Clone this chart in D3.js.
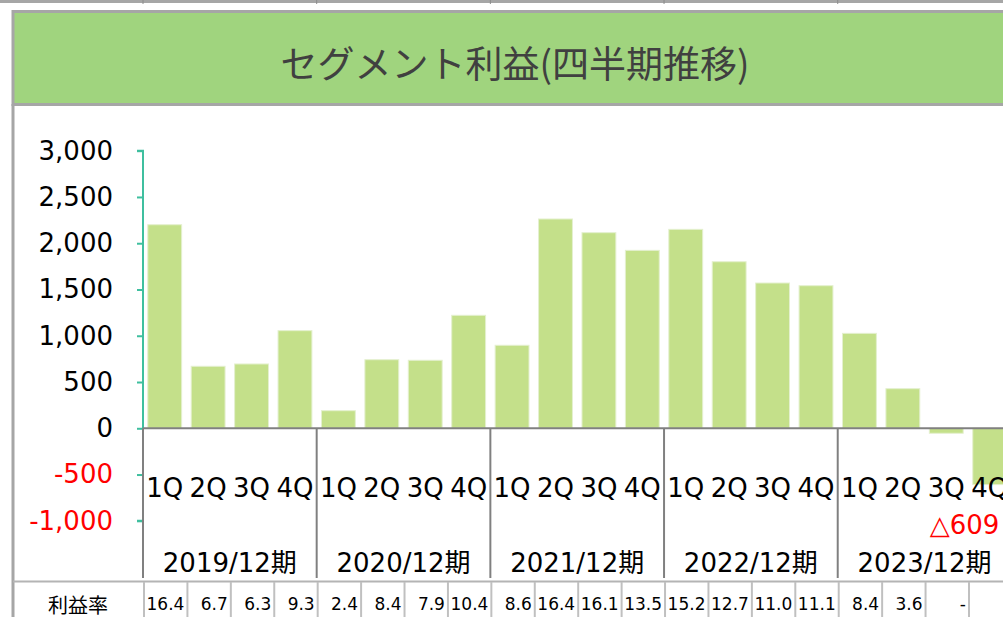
<!DOCTYPE html>
<html>
<head>
	<meta charset="utf-8">
	<script src="https://d3js.org/d3.v7.min.js"></script>
	<title></title>
	<style type="text/css">
		body { margin: 0; background: #fff; }
		svg { display: block; font-family: "DejaVu Sans", "Noto Sans CJK JP", sans-serif; }
	</style>
</head>
<body>
	<div id="chart"></div>

	<script type="text/javascript">

		var title = "セグメント利益(四半期推移)";
		var years = ["2019/12期", "2020/12期", "2021/12期", "2022/12期", "2023/12期"];
		var quarters = ["1Q", "2Q", "3Q", "4Q"];
		var profit = [2200, 670, 695, 1055,
		              190, 741, 735, 1221,
		              897, 2262, 2114, 1923,
		              2150, 1800, 1570, 1541,
		              1026, 428, -54, -609];
		var margin = ["16.4", "6.7", "6.3", "9.3",
		              "2.4", "8.4", "7.9", "10.4",
		              "8.6", "16.4", "16.1", "13.5",
		              "15.2", "12.7", "11.0", "11.1",
		              "8.4", "3.6", "-", ""];
		var yTicks = [-1000, -500, 0, 500, 1000, 1500, 2000, 2500, 3000];

		var width = 1003, height = 617;

		var svg = d3.select("#chart")
		  .append("svg")
		  .attr("width", width)
		  .attr("height", height);

		// top strip from the sheet above
		svg.append("rect").attr("x", 0).attr("y", 0).attr("width", width).attr("height", 3).attr("fill", "#a6a6a6");

		var x = d3.scaleBand()
		  .domain(d3.range(profit.length))
		  .range([143, 143 + 43.42 * profit.length])
		  .paddingInner(0.22)
		  .paddingOuter(0.11);
		var step = x.step();

		var y = d3.scaleLinear().domain([-1000, 3000]).range([520.8, 150.7]);

		years.forEach(function(yr, i) {
			svg.append("line")
			  .attr("x1", 143 + i * 4 * step).attr("x2", 143 + i * 4 * step)
			  .attr("y1", 0).attr("y2", 4)
			  .attr("stroke", "#8c8c8c").attr("stroke-width", 1);
		});

		// title box
		svg.append("rect")
		  .attr("x", 13).attr("y", 11.5)
		  .attr("width", width).attr("height", 93)
		  .attr("fill", "#a0d47e")
		  .attr("stroke", "#a6a6a6").attr("stroke-width", 3);

		svg.append("text")
		  .attr("x", 515).attr("y", 62)
		  .attr("text-anchor", "middle")
		  .attr("dominant-baseline", "central")
		  .attr("font-family", "'Noto Sans CJK JP', sans-serif")
		  .attr("font-size", 37)
		  .attr("fill", "#404040")
		  .text(title);

		svg.append("line")
		  .attr("x1", 13).attr("x2", 13).attr("y1", 104).attr("y2", height)
		  .attr("stroke", "#a6a6a6").attr("stroke-width", 3);

		// bars
		svg.append("g").selectAll("rect")
		  .data(profit)
		  .join("rect")
		  .attr("x", function(d, i) { return x(i); })
		  .attr("width", x.bandwidth())
		  .attr("y", function(d) { return y(Math.max(0, d)); })
		  .attr("height", function(d) { return Math.abs(y(d) - y(0)); })
		  .attr("fill", "#c4e08a")
		  .attr("stroke", "#e4f0cf")
		  .attr("stroke-width", 1);

		// y axis
		var fmt = d3.format(",");
		var yaxis = svg.append("g")
		  .attr("transform", "translate(143,0)")
		  .call(d3.axisLeft(y).tickValues(yTicks).tickSize(6)
		    .tickFormat(function(d) { return fmt(d).replace("\u2212", "-"); }));
		yaxis.selectAll("path, line").attr("stroke", "#3fbf9f").attr("stroke-width", 2);
		yaxis.select(".domain").attr("d", "M-6," + y(3000) + "H0V" + y(-1000) + "H-6").attr("fill", "none");
		yaxis.selectAll("text")
		  .attr("x", -30)
		  .attr("font-size", 26)
		  .attr("font-family", "'DejaVu Sans', sans-serif")
		  .attr("fill", function(d) { return d < 0 ? "#ff0000" : "#000"; });

		// category axis
		svg.append("line")
		  .attr("x1", 143).attr("x2", width).attr("y1", y(0)).attr("y2", y(0))
		  .attr("stroke", "#808080").attr("stroke-width", 2);

		years.forEach(function(yr, i) {
			var gx = 143 + i * 4 * step;
			svg.append("line")
			  .attr("x1", gx).attr("x2", gx).attr("y1", y(0)).attr("y2", 578)
			  .attr("stroke", "#808080").attr("stroke-width", 2);
			svg.append("text")
			  .attr("x", gx + 2 * step).attr("y", 563)
			  .attr("text-anchor", "middle").attr("dominant-baseline", "central")
			  .attr("font-size", 26).attr("fill", "#000")
			  .text(yr);
		});

		svg.append("g").selectAll("text")
		  .data(profit)
		  .join("text")
		  .attr("x", function(d, i) { return x(i) + x.bandwidth() / 2; })
		  .attr("y", 488)
		  .attr("text-anchor", "middle").attr("dominant-baseline", "central")
		  .attr("font-size", 26).attr("fill", "#000")
		  .text(function(d, i) { return quarters[i % 4]; });

		// negative value label
		var last = profit.length - 1;
		svg.append("text")
		  .attr("x", x(last) - 43).attr("y", 525)
		  .attr("dominant-baseline", "central")
		  .attr("font-size", 26).attr("fill", "#ff0000")
		  .text("△" + Math.abs(profit[last]));

		// margin table
		svg.append("line")
		  .attr("x1", 13).attr("x2", width).attr("y1", 581.5).attr("y2", 581.5)
		  .attr("stroke", "#b4b4b4").attr("stroke-width", 2);

		svg.append("text")
		  .attr("x", 78).attr("y", 604)
		  .attr("text-anchor", "middle").attr("dominant-baseline", "central")
		  .attr("font-family", "'Noto Sans CJK JP', sans-serif")
		  .attr("font-size", 20).attr("fill", "#000")
		  .text("利益率");

		svg.append("g").selectAll("line")
		  .data(d3.range(profit.length + 1))
		  .join("line")
		  .attr("x1", function(i) { return 144 + i * step; })
		  .attr("x2", function(i) { return 144 + i * step; })
		  .attr("y1", 582).attr("y2", height)
		  .attr("stroke", "#c0c0c0").attr("stroke-width", 2);

		svg.append("g").selectAll("text")
		  .data(margin)
		  .join("text")
		  .attr("x", function(d, i) { return 144 + (i + 1) * step - 3; })
		  .attr("y", 604)
		  .attr("text-anchor", "end").attr("dominant-baseline", "central")
		  .attr("font-size", 17).attr("fill", "#000")
		  .text(function(d) { return d; });

	</script>
</body>
</html>
